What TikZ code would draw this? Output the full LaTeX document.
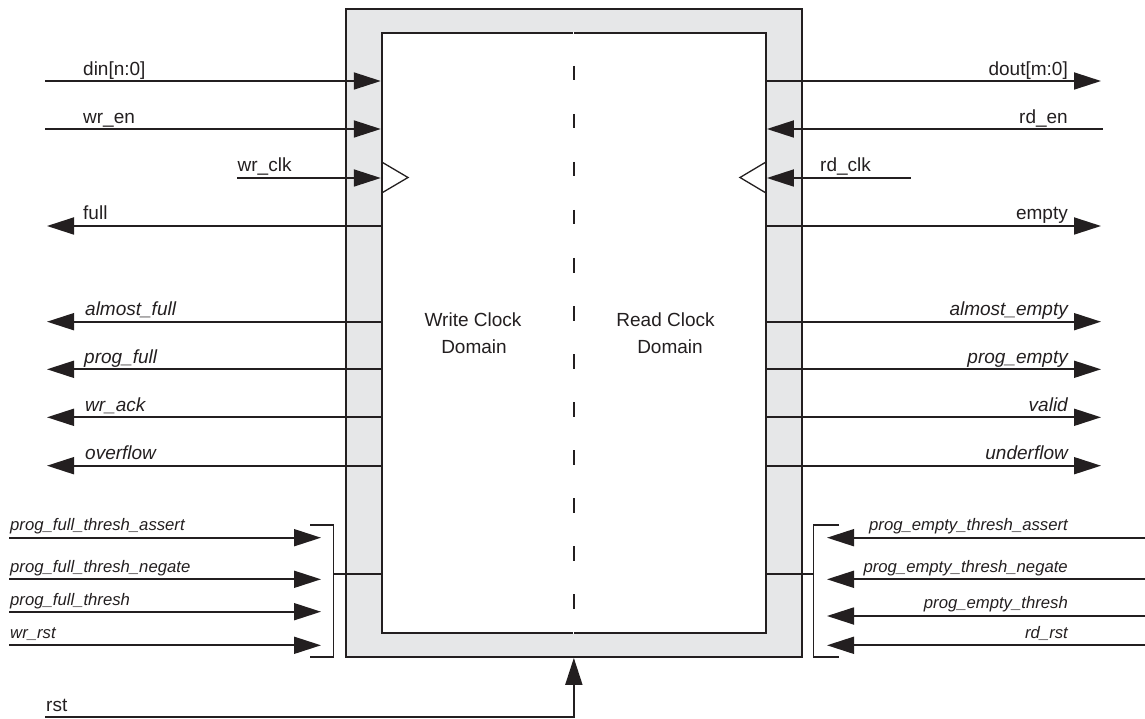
\documentclass[tikz,border=0pt]{standalone}
\usepackage{fontspec}
\setmainfont{Liberation Sans}
\usetikzlibrary{arrows.meta}
\definecolor{boxgray}{RGB}{230,231,232}
\definecolor{ink}{RGB}{35,31,32}
\begin{document}
\begin{tikzpicture}[x=1pt,y=-1pt,
  sig/.style={line width=1.8pt, draw=ink},
  arr/.style={sig, -{Triangle[length=27pt,width=17pt]}},
  lbl/.style={font=\fontsize{19}{22}\selectfont, inner sep=0pt, text=ink},
  ilbl/.style={lbl, font=\fontsize{19}{22}\selectfont\itshape},
  slbl/.style={lbl, font=\fontsize{16.7}{20}\selectfont\itshape},
  outerbox/.style={draw=ink, fill=boxgray, line width=1.8pt, inner sep=0pt},
  innerbox/.style={draw=ink, fill=white, line width=1.8pt, inner sep=0pt},
  clk/.style={draw=ink, line width=1.3pt, line join=miter},
  brk/.style={draw=ink, line width=1.6pt}
]
\useasboundingbox (0,0) rectangle (1145,719);
% boxes
\node[outerbox, minimum width=455.7pt, minimum height=648pt] (outer) at (573.85,333) {};
\node[innerbox, minimum width=384.3pt, minimum height=600pt] (inner) at (573.85,333.3) {};
% domain separator
\draw[white, line width=1pt] (inner.north) -- (inner.south);
\draw[ink, line width=2pt, dash pattern=on 14.5pt off 33.5pt] (573.85,66) -- (573.85,609);
\node[lbl, anchor=base] (wc1) at (473,326.7) {Write Clock};
\node[lbl, anchor=base] (wc2) at (474,353) {Domain};
\node[lbl, anchor=base] (rc1) at (665.5,326.7) {Read Clock};
\node[lbl, anchor=base] (rc2) at (670,353) {Domain};
% left free ends
\coordinate (dinL) at (45,81);
\coordinate (wrenL) at (45,129);
\coordinate (wrclkL) at (237,178);
\coordinate (fullL) at (47,226);
\coordinate (afL) at (47,321.7);
\coordinate (pfL) at (47,369.3);
\coordinate (ackL) at (47,417.3);
\coordinate (ovL) at (47,465.7);
% right free ends
\coordinate (doutR) at (1101,81);
\coordinate (rdenR) at (1102.7,129);
\coordinate (rdclkR) at (910.7,178);
\coordinate (emptyR) at (1101,226);
\coordinate (aeR) at (1101,321.7);
\coordinate (peR) at (1101,369.3);
\coordinate (valR) at (1101,417.3);
\coordinate (ufR) at (1101,465.7);
% left signals
\draw[arr] (dinL) -- (dinL -| inner.west);
\draw[arr] (wrenL) -- (wrenL -| inner.west);
\draw[arr] (wrclkL) -- (wrclkL -| inner.west);
\draw[arr] (fullL -| inner.west) -- (fullL);
\draw[arr] (afL -| inner.west) -- (afL);
\draw[arr] (pfL -| inner.west) -- (pfL);
\draw[arr] (ackL -| inner.west) -- (ackL);
\draw[arr] (ovL -| inner.west) -- (ovL);
% right signals
\draw[arr] (doutR -| inner.east) -- (doutR);
\draw[arr] (rdenR) -- (rdenR -| inner.east);
\draw[arr] (rdclkR) -- (rdclkR -| inner.east);
\draw[arr] (emptyR -| inner.east) -- (emptyR);
\draw[arr] (aeR -| inner.east) -- (aeR);
\draw[arr] (peR -| inner.east) -- (peR);
\draw[arr] (valR -| inner.east) -- (valR);
\draw[arr] (ufR -| inner.east) -- (ufR);
% clock triangles
\draw[clk] (381.7,162) -- (408,177.5) -- (381.7,193);
\draw[clk] (766,162) -- (740,177.5) -- (766,193);
% left labels
\node[lbl, anchor=base west] (ldin) at (83,76) {din[n:0]};
\node[lbl, anchor=base west] (lwren) at (83,123.5) {wr\_en};
\node[lbl, anchor=base west] (lwrclk) at (237.5,172) {wr\_clk};
\node[lbl, anchor=base west] (lfull) at (83,219.5) {full};
\node[ilbl, anchor=base west] (laf) at (85,315.5) {almost\_full};
\node[ilbl, anchor=base west] (lpf) at (84,363) {prog\_full};
\node[ilbl, anchor=base west] (lack) at (85,411) {wr\_ack};
\node[ilbl, anchor=base west] (lov) at (85,459.5) {overflow};
% right labels
\node[lbl, anchor=base east] (ldout) at (1068,76) {dout[m:0]};
\node[lbl, anchor=base east] (lrden) at (1068,123.5) {rd\_en};
\node[lbl, anchor=base west] (lrdclk) at (820,172) {rd\_clk};
\node[lbl, anchor=base east] (lempty) at (1068,219.5) {empty};
\node[ilbl, anchor=base east] (lae) at (1068,315.5) {almost\_empty};
\node[ilbl, anchor=base east] (lpe) at (1068,363) {prog\_empty};
\node[ilbl, anchor=base east] (lval) at (1068,411) {valid};
\node[ilbl, anchor=base east] (luf) at (1068,459.5) {underflow};
% left bracket group
\coordinate (ptaL) at (9,537.7);
\coordinate (ptnL) at (9,579.3);
\coordinate (ptL) at (9,611.7);
\coordinate (wrstL) at (9,645.3);
\coordinate (lbT) at (333.3,525);
\coordinate (lbB) at (333.3,657);
\coordinate (lbM) at (333.3,574);
\draw[arr] (ptaL) -- ++(312,0) coordinate (ptaT);
\draw[arr] (ptnL) -- ++(312,0) coordinate (ptnT);
\draw[arr] (ptL) -- ++(312,0) coordinate (ptT);
\draw[arr] (wrstL) -- ++(312,0) coordinate (wrstT);
\draw[brk] (310,525) -- (lbT) -- (lbB) -- (310,657);
\draw[brk] (lbM) -- (lbM -| inner.west);
\node[slbl, anchor=base west] (lpta) at (10,530.7) {prog\_full\_thresh\_assert};
\node[slbl, anchor=base west] (lptn) at (10,572.5) {prog\_full\_thresh\_negate};
\node[slbl, anchor=base west] (lpt) at (10,605) {prog\_full\_thresh};
\node[slbl, anchor=base west] (lwrst) at (10,638.5) {wr\_rst};
% right bracket group
\coordinate (petaR) at (1145,537.7);
\coordinate (petnR) at (1145,579.3);
\coordinate (petR) at (1145,616);
\coordinate (rrstR) at (1145,645.3);
\coordinate (rbT) at (813.3,525);
\coordinate (rbB) at (813.3,657);
\coordinate (rbM) at (813.3,574);
\draw[arr] (petaR) -- (827,537.7);
\draw[arr] (petnR) -- (827,579.3);
\draw[arr] (petR) -- (827,616);
\draw[arr] (rrstR) -- (827,645.3);
\draw[brk] (839,525) -- (rbT) -- (rbB) -- (839,657);
\draw[brk] (rbM) -- (rbM -| inner.east);
\node[slbl, anchor=base east] (lpeta) at (1068,530.7) {prog\_empty\_thresh\_assert};
\node[slbl, anchor=base east] (lpetn) at (1068,572.5) {prog\_empty\_thresh\_negate};
\node[slbl, anchor=base east] (lpet) at (1068,608.5) {prog\_empty\_thresh};
\node[slbl, anchor=base east] (lrrst) at (1068,638.5) {rd\_rst};
% rst
\coordinate (rstL) at (45,717);
\draw[arr] (rstL) -| (outer.south);
\node[lbl, anchor=base west] (lrst) at (46,711) {rst};
\end{tikzpicture}
\end{document}
